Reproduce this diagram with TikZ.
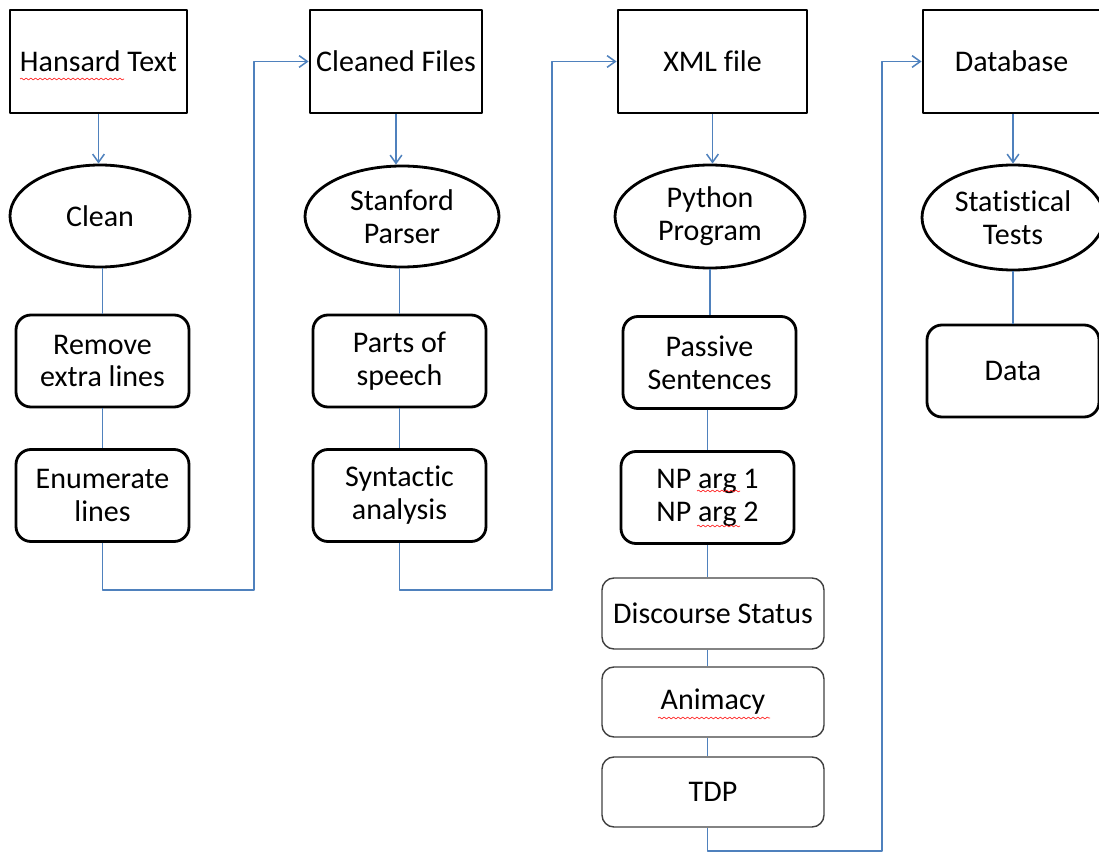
\documentclass[tikz,border=0pt]{standalone}
\usepackage{fontspec}
\setmainfont{Carlito}[RawFeature={-liga;-clig;-calt}]
\usetikzlibrary{arrows.meta,shapes.geometric,decorations.pathmorphing}
\definecolor{linkblue}{HTML}{4F81BD}
\definecolor{frame}{HTML}{404040}

\begin{document}
\begin{tikzpicture}[x=0.03cm, y=-0.03cm, line join=round,
	font=\fontsize{25.6}{28.1}\selectfont,
	src/.style={draw=black, line width=2.4pt, rectangle, minimum height=3.09cm, inner sep=0pt, align=center},
	oval/.style={draw=black, line width=2.4pt, ellipse, inner sep=0pt, align=center},
	task/.style={draw=black, line width=2.4pt, rounded corners=0.45cm, minimum width=5.19cm, minimum height=2.76cm, inner sep=0pt, align=center},
	sub/.style={draw=frame, line width=1.2pt, rounded corners=0.36cm, minimum width=6.66cm, minimum height=2.1cm, inner sep=0pt, align=center},
	flow/.style={draw=linkblue, line width=1.3pt},
	arr/.style={flow, -{Straight Barb[length=7pt,width=10pt]}},
	squig/.style={draw=red!85, line width=0.6pt, decorate, decoration={snake, segment length=4pt, amplitude=0.8pt}}]
	\useasboundingbox (0,0) rectangle (1099,852);
	\node[src, minimum width=5.31cm] (hansard) at (98.5,61.5) {Hansard Text};
	\node[src, minimum width=5.16cm] (cleaned) at (396,61.5) {Cleaned Files};
	\node[src, minimum width=5.67cm] (xml) at (712.5,61.5) {XML file};
	\node[src, minimum width=5.31cm] (database) at (1011.5,61.5) {Database};
	\node[oval, minimum width=5.4cm, minimum height=3.06cm] (clean) at (100,216) {Clean};
	\node[oval, minimum width=5.82cm, minimum height=3.03cm] (stanford) at (402,216.5) {Stanford\\Parser};
	\node[oval, minimum width=5.7cm, minimum height=3.09cm] (python) at (710,216.5) {Python\\Program};
	\node[oval, minimum width=5.46cm, minimum height=3.15cm] (stats) at (1013,217.5) {Statistical\\Tests};
	\node[task] (remove) at (102.5,361) {Remove\\extra lines};
	\node[task] (enum) at (102.5,495.5) {Enumerate\\lines};
	\node[task] (parts) at (399.5,361) {Parts of\\speech};
	\node[task] (syntactic) at (399.5,495.5) {Syntactic\\analysis};
	\node[task] (passive) at (709.5,362.5) {Passive\\Sentences};
	\node[task] (nparg) at (707.5,497.5) {NP arg 1\\NP arg 2};
	\node[task, minimum width=5.16cm] (data) at (1013,371) {Data};
	\node[sub, minimum height=2.13cm] (discourse) at (713,613.5) {Discourse Status};
	\node[sub] (animacy) at (713,702) {Animacy};
	\node[sub] (tdp) at (713,792) {TDP};
	\coordinate (hop1) at (254,590);
	\coordinate (hop2) at (552,590);
	\coordinate (hop3) at (882,851);
	\draw[arr] (hansard.south) -- (hansard.south |- clean.north);
	\draw[flow] (remove.north |- clean.south) -- (remove.north);
	\draw[flow] (remove.south) -- (enum.north);
	\draw[arr] (enum.south) |- (hop1) |- (cleaned.west);
	\draw[arr] (cleaned.south) -- (cleaned.south |- stanford.north);
	\draw[flow] (parts.north |- stanford.south) -- (parts.north);
	\draw[flow] (parts.south) -- (syntactic.north);
	\draw[arr] (syntactic.south) |- (hop2) |- (xml.west);
	\draw[arr] (xml.south) -- (xml.south |- python.north);
	\draw[flow] (python.south) -- (python.south |- passive.north);
	\draw[flow] (nparg.north |- passive.south) -- (nparg.north);
	\draw[flow] (nparg.south) -- (nparg.south |- discourse.north);
	\draw[flow] (nparg.south |- discourse.south) -- (nparg.south |- animacy.north);
	\draw[flow] (nparg.south |- animacy.south) -- (nparg.south |- tdp.north);
	\draw[arr] (nparg.south |- tdp.south) |- (hop3) |- (database.west);
	\draw[arr] (database.south -| stats.north) -- (stats.north);
	\draw[flow] (stats.south) -- (stats.south |- data.north);
	\draw[squig] (20,79) -- (124,79);
	\draw[squig] (697,491) -- (740,491);
	\draw[squig] (697,526) -- (740,526);
	\draw[squig] (658,718) -- (770,718);
\end{tikzpicture}
\end{document}
